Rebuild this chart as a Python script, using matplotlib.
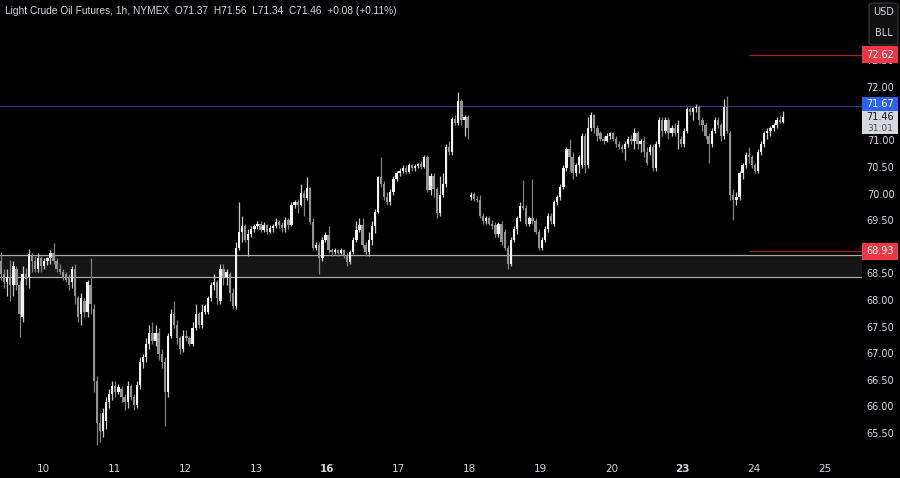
import matplotlib
matplotlib.use("Agg")
import matplotlib.pyplot as plt
from matplotlib.patches import Rectangle, FancyBboxPatch
import numpy as np

# ---------------- data (hourly candles) ----------------
opens = [
    68.75,68.50,68.35,68.45,68.30,68.60,68.30,67.70,68.50,68.45,68.85,68.75,68.60,68.80,
    # 10
    68.65,68.75,68.80,68.90,68.75,68.60,68.55,68.50,68.45,68.35,68.60,68.05,67.75,68.00,67.80,68.30,67.85,66.50,65.70,65.55,65.75,66.10,66.25,
    # 11
    66.40,66.30,66.35,66.20,66.10,66.40,66.20,66.05,66.42,66.85,66.95,67.20,67.40,67.25,67.40,67.00,66.85,66.30,67.35,67.75,67.55,67.30,67.10,
    # 12
    67.35,67.30,67.20,67.50,67.75,67.55,67.80,67.80,68.05,68.30,68.35,68.00,68.60,68.45,68.50,68.15,67.90,69.00,69.30,69.40,69.15,69.25,69.35,
    # 13
    69.40,69.45,69.34,69.43,69.30,69.37,69.41,69.49,69.43,69.37,69.52,69.43,69.80,69.86,69.80,70.03,69.94,70.12,69.49,69.00,69.05,68.81,69.15,
    # 16
    69.24,68.95,68.92,68.96,68.90,68.96,68.87,68.74,68.92,69.15,69.34,69.43,69.05,68.92,69.15,69.40,69.68,70.33,70.20,69.95,69.85,70.05,70.30,
    # 17
    70.40,70.45,70.50,70.42,70.55,70.50,70.54,70.57,70.52,70.70,70.08,70.35,70.10,69.65,70.00,70.20,70.90,70.80,71.42,71.35,71.75,71.40,71.45,
    # 18
    69.95,70.00,69.92,69.90,69.60,69.50,69.55,69.45,69.42,69.25,69.45,69.30,69.00,68.70,69.15,69.35,69.55,69.78,69.75,69.45,69.55,69.50,69.30,
    # 19
    69.00,69.15,69.35,69.60,69.45,69.85,69.95,70.15,70.50,70.85,70.70,70.40,70.55,70.55,71.10,70.55,71.25,71.50,71.25,71.15,71.05,71.00,71.10,
    # 20
    71.15,71.05,70.95,70.90,70.85,70.95,71.05,71.00,71.15,70.95,71.00,70.80,70.80,70.90,70.50,70.95,71.40,71.20,71.40,
    # 23
    71.15,71.25,71.15,71.05,70.95,71.20,71.60,71.55,71.62,71.65,71.40,71.30,71.10,70.95,71.20,71.40,71.30,71.10,71.65,
    # 24
    71.15,70.00,69.90,69.95,70.40,70.55,70.75,70.70,70.55,70.45,70.80,70.95,71.15,71.20,71.25,71.30,71.40,71.37,
]
highs = [
    68.92,68.60,68.60,68.77,68.75,68.65,68.40,68.65,68.62,68.98,68.90,68.85,68.90,68.85,
    68.80,68.82,68.95,69.09,68.80,68.70,68.60,68.55,68.50,68.65,68.70,68.10,68.15,68.05,68.40,68.80,67.95,66.60,65.90,66.00,66.20,66.35,66.50,
    66.50,66.45,66.40,66.25,66.50,66.45,66.25,66.50,66.95,67.00,67.30,67.55,67.60,67.55,67.50,67.10,66.95,67.40,67.85,68.00,67.65,67.35,67.45,
    67.45,67.35,67.60,67.95,67.80,67.95,67.95,68.10,68.35,68.50,68.40,68.70,68.70,68.60,68.55,68.25,69.10,69.85,69.60,69.45,69.35,69.40,69.45,
    69.50,69.50,69.48,69.45,69.42,69.45,69.55,69.52,69.48,69.58,69.55,69.85,69.90,69.92,70.20,70.08,70.33,70.15,69.55,69.10,69.10,69.20,69.30,
    69.40,69.00,69.00,68.98,69.00,68.98,68.90,68.95,69.20,69.50,69.55,69.55,69.10,69.30,69.50,69.72,70.35,70.70,70.25,70.05,70.10,70.35,70.45,
    70.50,70.55,70.55,70.60,70.58,70.58,70.60,70.62,70.75,70.75,70.40,70.40,70.15,70.35,70.40,70.95,71.00,71.45,71.50,71.92,71.80,71.50,71.50,
    70.05,70.05,69.98,70.00,69.65,69.60,69.60,69.52,69.48,69.48,69.50,69.35,69.05,69.20,69.40,69.60,69.85,70.28,69.80,69.60,70.30,69.55,69.35,
    69.20,69.40,69.65,69.65,69.90,70.00,70.20,70.55,70.90,71.05,70.80,70.60,70.75,71.15,71.15,71.45,71.55,71.52,71.30,71.20,71.10,71.15,71.18,
    71.18,71.10,71.00,70.95,71.00,71.10,71.12,71.25,71.20,71.05,71.10,70.90,70.95,70.95,71.00,71.45,71.45,71.45,71.45,
    71.30,71.35,71.40,71.10,71.25,71.65,71.65,71.65,71.70,71.68,71.45,71.35,71.15,71.25,71.45,71.45,71.35,71.80,71.85,
    71.20,70.10,70.05,70.45,70.60,70.80,70.90,70.75,70.60,70.85,71.00,71.20,71.25,71.28,71.35,71.45,71.50,71.56,
]
lows = [
    68.40,68.25,68.10,68.00,68.10,68.20,67.33,67.60,68.30,68.25,68.55,68.55,68.55,68.55,
    68.60,68.68,68.70,68.70,68.55,68.50,68.40,68.35,68.20,68.25,67.95,67.60,67.55,67.70,67.70,67.75,66.30,65.30,65.35,65.45,65.60,66.00,66.15,
    66.20,66.25,66.10,65.95,66.00,66.15,65.95,66.00,66.35,66.75,66.85,67.10,67.20,67.15,66.90,66.75,65.65,66.20,67.30,67.50,67.20,67.00,67.05,
    67.25,67.15,67.15,67.45,67.50,67.50,67.75,67.75,68.00,68.20,67.95,67.95,68.30,68.30,68.00,67.85,67.85,68.95,69.10,69.10,68.85,69.20,69.30,
    69.35,69.30,69.30,69.25,69.28,69.30,69.38,69.38,69.30,69.30,69.35,69.40,69.75,69.65,69.78,69.60,69.90,69.45,68.95,68.95,68.50,68.75,69.10,
    68.90,68.85,68.88,68.85,68.88,68.80,68.65,68.70,68.88,69.10,69.30,69.00,68.85,68.85,69.05,69.28,69.65,70.15,69.90,69.80,69.80,70.00,70.25,
    70.35,70.40,70.38,70.40,70.45,70.45,70.50,70.48,70.50,70.05,70.00,69.95,69.55,69.60,69.95,70.15,70.75,70.75,71.30,71.30,71.30,71.10,71.05,
    69.90,69.88,69.85,69.55,69.45,69.45,69.42,69.35,69.20,69.20,69.05,68.95,68.60,68.65,69.10,69.25,69.50,69.70,69.40,69.40,69.45,69.25,68.95,
    68.95,69.10,69.30,69.45,69.40,69.80,69.90,70.10,70.45,70.45,70.30,70.35,70.40,70.50,70.40,70.50,71.20,71.15,71.00,71.00,70.95,70.98,71.05,
    71.00,70.90,70.85,70.80,70.65,70.90,70.95,70.85,70.85,70.80,70.70,70.55,70.75,70.45,70.45,70.90,71.10,71.15,71.05,
    71.10,71.10,70.85,70.90,70.90,71.15,71.50,71.40,71.55,71.30,71.20,71.05,70.60,70.90,71.15,71.25,71.00,71.05,71.15,
    69.90,69.52,69.80,69.90,70.30,70.50,70.60,70.50,70.40,70.40,70.75,70.90,71.05,71.10,71.20,71.25,71.35,71.34,
]
closes = [
    68.50,68.35,68.45,68.30,68.65,68.30,67.75,68.50,68.42,68.88,68.75,68.60,68.80,68.65,
    68.75,68.80,68.90,68.75,68.60,68.55,68.45,68.40,68.30,68.60,68.10,67.70,68.05,67.80,68.35,67.95,66.50,65.70,65.55,65.90,66.10,66.25,66.40,
    66.30,66.38,66.20,66.10,66.40,66.20,66.05,66.42,66.85,66.95,67.20,67.40,67.25,67.40,67.00,66.85,66.30,67.35,67.75,67.55,67.30,67.10,67.35,
    67.30,67.20,67.50,67.75,67.55,67.80,67.90,68.05,68.30,68.35,68.05,68.60,68.45,68.55,68.15,67.90,69.00,69.30,69.40,69.15,69.25,69.35,69.40,
    69.45,69.34,69.43,69.30,69.37,69.41,69.49,69.43,69.37,69.52,69.43,69.80,69.86,69.80,70.03,69.94,70.12,69.49,69.00,69.05,68.81,69.15,69.24,
    68.95,68.92,68.96,68.90,68.96,68.87,68.74,68.92,69.15,69.34,69.43,69.05,68.92,69.15,69.40,69.68,70.33,70.20,69.95,69.85,70.05,70.30,70.40,
    70.45,70.50,70.42,70.55,70.50,70.54,70.57,70.52,70.70,70.09,70.35,70.10,69.65,70.00,70.20,70.90,70.80,71.42,71.35,71.75,71.40,71.45,71.25,
    70.00,69.92,69.90,69.60,69.50,69.55,69.45,69.40,69.25,69.45,69.10,69.00,68.70,69.15,69.35,69.55,69.78,69.75,69.45,69.55,69.50,69.30,69.00,
    69.15,69.35,69.60,69.50,69.85,69.95,70.15,70.50,70.85,70.70,70.40,70.55,70.70,71.10,70.55,71.25,71.50,71.25,71.10,71.05,71.00,71.10,71.15,
    71.05,70.95,70.90,70.85,70.95,71.05,71.00,71.15,70.95,71.00,70.80,70.60,70.90,70.50,70.95,71.40,71.20,71.40,71.15,
    71.25,71.15,71.30,70.95,71.20,71.60,71.55,71.62,71.65,71.40,71.30,71.10,70.95,71.20,71.40,71.30,71.10,71.65,71.20,
    70.00,69.90,69.95,70.40,70.55,70.75,70.70,70.55,70.45,70.80,70.95,71.15,71.20,71.25,71.30,71.40,71.37,71.46,
]

day_labels = ["10", "11", "12", "13", "16", "17", "18", "19", "20", "23", "24", "25"]
day_starts = [14, 37, 60, 83, 106, 129, 152, 175, 198, 221, 244, 267]
week_starts = ["16", "23"]
# 71.50 and 69.00 are fully covered by price boxes in the reference
price_ticks = [72.50, 72.00, 71.00, 70.50, 70.00, 69.50,
               68.50, 68.00, 67.50, 67.00, 66.50, 66.00, 65.50]

zone_low, zone_high = 68.45, 68.865
resistance = 71.67
target_up, target_down = 72.62, 68.93
ray_start = 242
last_price = 71.46
title = ("Light Crude Oil Futures, 1h, NYMEX  O71.37  H71.56  L71.34  C71.46  "
         "+0.08 (+0.11%)")

# ---------------- figure ----------------
W, H = 900, 478
fig = plt.figure(figsize=(W / 100, H / 100), dpi=100, facecolor="black")
AX_W, AX_H = 862, 455
ax = fig.add_axes([0, (H - AX_H) / H, AX_W / W, AX_H / H])
ax.set_facecolor("black")
for s in ax.spines.values():
    s.set_visible(False)
ax.set_xticks([])
ax.set_yticks([])

ppu = 53.25          # pixels per price unit
y_top = 72 + 88 / ppu
y_bot = 72 - (AX_H - 88) / ppu
ax.set_ylim(y_bot, y_top)
step = 3.09
ax.set_xlim(-1 / step, (AX_W - 1) / step)

o = np.array(opens); h = np.array(highs); l = np.array(lows); c = np.array(closes)
n = len(c)
idx = np.arange(n)
up = c >= o

# zone box
ax.axhspan(zone_low, zone_high, facecolor="#151515", edgecolor="none", zorder=0)
ax.axhline(zone_high, color="#a8a8a8", lw=0.9, zorder=1)
ax.axhline(zone_low, color="#a8a8a8", lw=0.9, zorder=1)

# resistance line
ax.axhline(resistance, color="#2c3382", lw=0.9, zorder=1)
# red rays
ax.hlines([target_up, target_down], ray_start, ax.get_xlim()[1],
          color="#a81e2a", lw=0.9, zorder=1)

# candles
wick_col = np.where(up, "#c8c8c8", "#828282")
body_col = np.where(up, "#f4f4f4", "#939393")
ax.vlines(idx, l, h, colors=wick_col, linewidth=0.9, zorder=2)
bottom = np.minimum(o, c)
height = np.maximum(np.abs(c - o), 0.02)
ax.bar(idx, height, bottom=bottom, width=0.75, color=body_col, linewidth=0, zorder=3)

# price axis labels
ytr = ax.get_yaxis_transform()
xc = (880 + 0.5) / AX_W
for v in price_ticks:
    ax.text(xc, v, f"{v:.2f}", transform=ytr, ha="center", va="center",
            color="#d1d4dc", fontsize=7, clip_on=False, zorder=4)

x1 = 898 / AX_W

def price_box(value, color, text, txtcolor="white", up_px=8.5, down_px=8.5):
    r = Rectangle((1.0, value - down_px / ppu), x1 - 1.0, (up_px + down_px) / ppu,
                  transform=ytr, facecolor=color, edgecolor="none",
                  clip_on=False, zorder=5)
    ax.add_patch(r)
    if text:
        ax.text((1.0 + x1) / 2, value, text, transform=ytr, ha="center",
                va="center", color=txtcolor, fontsize=7, clip_on=False, zorder=6)

price_box(target_up, "#f23645", f"{target_up:.2f}")
price_box(target_down, "#f23645", f"{target_down:.2f}")
price_box(resistance + 1.5 / ppu, "#2962ff", f"{resistance:.2f}", up_px=7.5, down_px=7.0)
# last price box with countdown
price_box(last_price, "#d6d8de", None, up_px=5.3, down_px=17.5)
ax.text((1.0 + x1) / 2, last_price - 0.3 / ppu, f"{last_price:.2f}", transform=ytr,
        ha="center", va="center", color="#131722", fontsize=7, clip_on=False, zorder=6)
ax.text((1.0 + x1) / 2, last_price - 11.5 / ppu, "31:01", transform=ytr,
        ha="center", va="center", color="#4a4e5a", fontsize=6.5, clip_on=False, zorder=6)

# time axis labels
xtr = ax.get_xaxis_transform()
for lab, i in zip(day_labels, day_starts):
    ax.text(i - 0.4, -14 / AX_H, lab, transform=xtr, ha="center", va="center",
            color="#d1d4dc", fontsize=7.5, clip_on=False,
            fontweight="bold" if lab in week_starts else "normal")

# title
fig.text(5 / W, 1 - 11 / H, title, ha="left", va="center", color="#d1d4dc",
         fontsize=7.3, family="Liberation Sans")

# currency / unit box
fb = FancyBboxPatch((869 / W, 1 - 45 / H), 29 / W, 42 / H,
                    boxstyle="round,pad=0,rounding_size=0.006",
                    transform=fig.transFigure, facecolor="#101010",
                    edgecolor="#3a3a3a", lw=0.8)
fig.add_artist(fb)
fig.text(884 / W, 1 - 12 / H, "USD", ha="center", va="center", color="#d1d4dc", fontsize=7)
fig.text(884 / W, 1 - 33 / H, "BLL", ha="center", va="center", color="#d1d4dc", fontsize=7)

fig.savefig("out.png", dpi=100, facecolor="black")
